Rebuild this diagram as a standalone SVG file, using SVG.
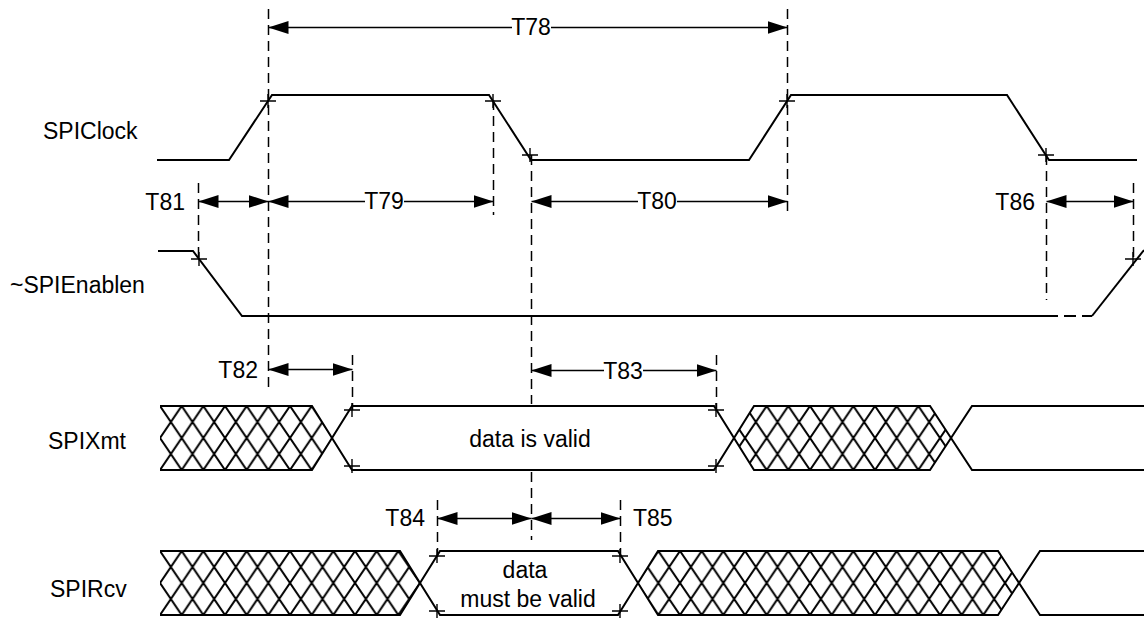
<svg xmlns="http://www.w3.org/2000/svg" xmlns:xlink="http://www.w3.org/1999/xlink" width="1144" height="618" viewBox="0 0 1144 618">
<style>
.w{fill:none;stroke:#000;stroke-width:2;stroke-linejoin:miter}
.wd{fill:none;stroke:#000;stroke-width:2;stroke-dasharray:12 6}
.d{fill:none;stroke:#000;stroke-width:1.5;stroke-dasharray:10 6}
.dim{fill:none;stroke:#000;stroke-width:1.4;marker-start:url(#ah);marker-end:url(#ah)}
.p{fill:none;stroke:#000;stroke-width:1.4}
.bg{fill:#fff}
text{font-family:"Liberation Sans",Arial,sans-serif;font-size:23px;fill:#000}
.m{text-anchor:middle}
.e{text-anchor:end}
</style>
<defs>
<marker id="ah" markerUnits="userSpaceOnUse" markerWidth="20" markerHeight="13" refX="20" refY="6.5" orient="auto-start-reverse" viewBox="0 0 20 13">
<path d="M0,0 L20,6.5 L0,13 z" fill="#000"/>
</marker>
<path id="plus" d="M-8,0 H8 M0,-7 V7" class="p"/>
<pattern id="hx" patternUnits="userSpaceOnUse" x="160" y="406" width="21.667" height="32">
<path d="M-21.667,-32 L43.333,64 M0,-32 L65,64 M-43.333,-32 L21.667,64 M-21.667,64 L43.333,-32 M0,64 L65,-32 M-43.333,64 L21.667,-32" stroke="#000" stroke-width="2" fill="none"/>
</pattern>
<pattern id="hr" patternUnits="userSpaceOnUse" x="160" y="551" width="21.667" height="32">
<path d="M-21.667,-32 L43.333,64 M0,-32 L65,64 M-43.333,-32 L21.667,64 M-21.667,64 L43.333,-32 M0,64 L65,-32 M-43.333,64 L21.667,-32" stroke="#000" stroke-width="2" fill="none"/>
</pattern>
</defs>
<rect width="1144" height="618" fill="#fff"/>

<g id="labels">
<text x="43" y="139">SPIClock</text>
<text x="10" y="293">~SPIEnablen</text>
<text x="48" y="449">SPIXmt</text>
<text x="50" y="597">SPIRcv</text>
</g>

<g id="SPIClock">
<path class="w" d="M157,160 H229 L272,95 H489 L531,160 H749 L791,95 H1007 L1049,160 H1137"/>
<use xlink:href="#plus" x="268" y="101"/>
<use xlink:href="#plus" x="493" y="101"/>
<use xlink:href="#plus" x="530" y="155"/>
<use xlink:href="#plus" x="787" y="101"/>
<use xlink:href="#plus" x="1046" y="155"/>
</g>

<g id="SPIEnablen">
<path class="w" d="M158,251 H193 L242,316 H1046"/>
<path class="wd" d="M1046,316 H1092"/>
<path class="w" d="M1092,316 L1144,250"/>
<use xlink:href="#plus" x="199" y="259"/>
<use xlink:href="#plus" x="1133" y="259"/>
</g>

<g id="SPIXmt">
<polygon points="160,406 312,406 332,438 312,470 160,470" fill="url(#hx)"/>
<polygon points="734,438 754,406 930,406 951,438 930,470 754,470" fill="url(#hx)"/>
<path class="w" d="M160,406 H312 L352,470 H714 L754,406 H930 L972,470 H1144"/>
<path class="w" d="M160,470 H312 L352,406 H714 L754,470 H930 L972,406 H1144"/>
<text class="m" x="530" y="447">data is valid</text>
<use xlink:href="#plus" x="352" y="410"/>
<use xlink:href="#plus" x="352" y="466"/>
<use xlink:href="#plus" x="716" y="410"/>
<use xlink:href="#plus" x="716" y="466"/>
</g>

<g id="SPIRcv">
<polygon points="160,551 400,551 420,583 400,615 160,615" fill="url(#hr)"/>
<polygon points="638,583 658,551 998,551 1019,583 998,615 658,615" fill="url(#hr)"/>
<path class="w" d="M160,551 H400 L440,615 H618 L658,551 H998 L1040,615 H1144"/>
<path class="w" d="M160,615 H400 L440,551 H618 L658,615 H998 L1040,551 H1144"/>
<text class="m" x="525" y="578">data</text>
<text class="m" x="528" y="607">must be valid</text>
<use xlink:href="#plus" x="437" y="556"/>
<use xlink:href="#plus" x="437" y="611"/>
<use xlink:href="#plus" x="620" y="556"/>
<use xlink:href="#plus" x="620" y="611"/>
</g>

<g id="connectors">
<path class="d" d="M268.5,9 V390 M493.5,100 V215 M531.5,155 V404 M531.5,472 V540 M787.5,9 V214 M198.5,183 V260 M1046.5,155 V300 M1133.5,183 V258 M352.5,355 V410 M716.5,355 V410 M437.5,500 V557 M620.5,500 V557"/>
<line class="dim" x1="268.5" y1="27.5" x2="787.5" y2="27.5"/>
<line class="dim" x1="268.5" y1="201.5" x2="493.5" y2="201.5"/>
<line class="dim" x1="531.5" y1="201.5" x2="787.5" y2="201.5"/>
<line class="dim" x1="198.5" y1="201.5" x2="268.5" y2="201.5"/>
<line class="dim" x1="1046.5" y1="201.5" x2="1133.5" y2="201.5"/>
<line class="dim" x1="268.5" y1="369.5" x2="352.5" y2="369.5"/>
<line class="dim" x1="531.5" y1="370.5" x2="716.5" y2="370.5"/>
<line class="dim" x1="437.5" y1="518.5" x2="531.5" y2="518.5"/>
<line class="dim" x1="531.5" y1="518.5" x2="620.5" y2="518.5"/>
</g>

<g id="dim-labels">
<rect class="bg" x="512" y="20" width="39" height="14"/>
<text class="m" x="531" y="35">T78</text>
<rect class="bg" x="365" y="194" width="39" height="14"/>
<text class="m" x="384" y="209">T79</text>
<rect class="bg" x="638" y="194" width="39" height="14"/>
<text class="m" x="657" y="209">T80</text>
<text class="e" x="185" y="210">T81</text>
<text class="e" x="1035" y="210">T86</text>
<text class="e" x="258" y="378">T82</text>
<rect class="bg" x="604" y="363" width="39" height="14"/>
<text class="m" x="623" y="379">T83</text>
<text class="e" x="425" y="526">T84</text>
<text x="633" y="526">T85</text>
</g>
</svg>
